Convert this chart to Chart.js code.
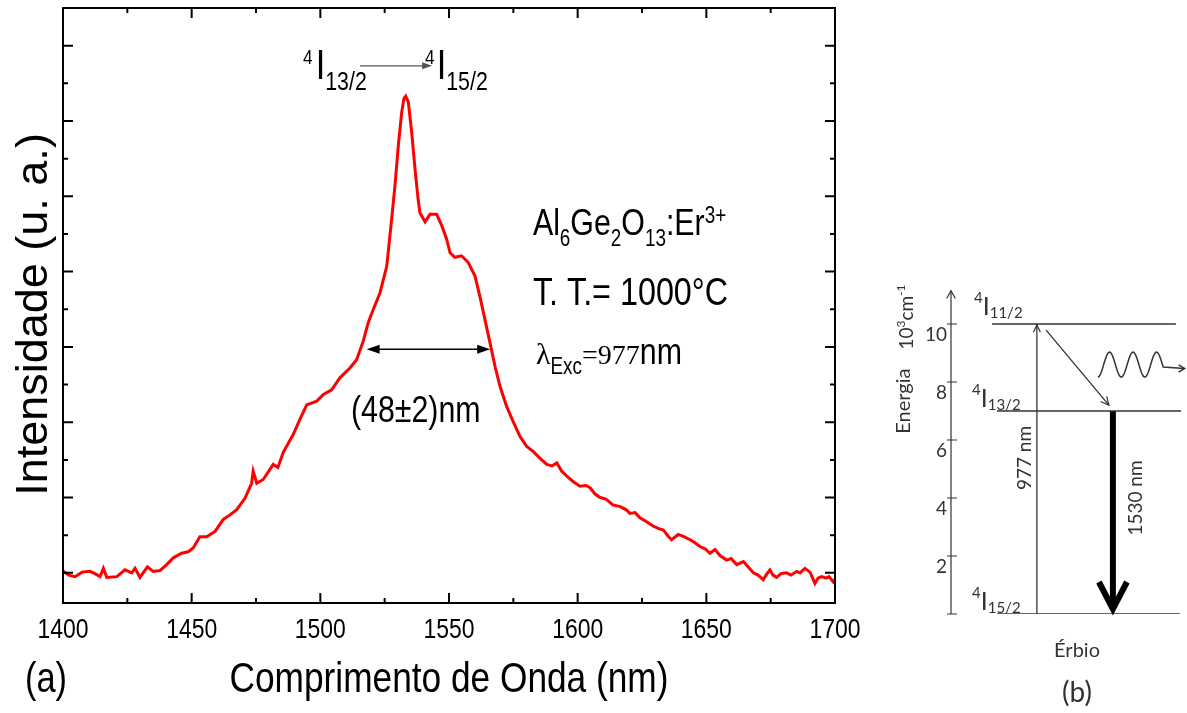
<!DOCTYPE html>
<html lang="pt">
<head>
<meta charset="UTF-8">
<title>Espectro de emissão Al6Ge2O13:Er3+</title>
<script src="https://cdn.jsdelivr.net/npm/chart.js"></script>
<style>
  body { margin: 0; background: #fff; }
  #spectrum { position: absolute; left: 0; top: 0; }
  #levels { position: absolute; left: 880px; top: 270px; }
</style>
</head>
<body>
<canvas id="spectrum" width="880" height="713"></canvas>
<canvas id="levels" width="307" height="443"></canvas>
<script>
// ---- (a) emission spectrum ----
const wavelength = [
  1400.1, 1402.3, 1404.7, 1407.4, 1410.5, 1412.4, 1414.4, 1415.7, 1417.0, 1420.9,
  1424.1, 1426.7, 1428.0, 1429.9, 1432.8, 1435.1, 1437.7, 1440.3, 1442.9, 1446.1,
  1448.7, 1450.6, 1453.2, 1455.8, 1459.1, 1462.3, 1464.9, 1467.5, 1470.7, 1473.3,
  1473.9, 1475.3, 1477.8, 1481.7, 1483.5, 1485.6, 1489.5, 1492.1, 1494.7, 1498.6,
  1501.2, 1504.4, 1507.6, 1511.5, 1514.1, 1516.7, 1518.6, 1520.6, 1523.2, 1525.8,
  1527.7, 1529.0, 1530.3, 1531.6, 1532.5, 1533.2, 1534.2, 1535.5, 1536.8, 1538.0,
  1538.7, 1540.7, 1542.6, 1545.2, 1547.2, 1549.1, 1550.4, 1552.3, 1554.9, 1557.5,
  1560.1, 1562.0, 1564.0, 1565.9, 1567.9, 1569.8, 1572.4, 1574.9, 1577.6, 1580.2,
  1582.8, 1585.4, 1588.0, 1590.0, 1591.9, 1593.8, 1595.9, 1598.3, 1600.9, 1603.2,
  1604.8, 1606.7, 1608.7, 1611.0, 1613.8, 1616.5, 1618.8, 1620.3, 1622.3, 1624.2,
  1626.8, 1629.4, 1631.3, 1633.3, 1635.1, 1636.5, 1639.1, 1641.3, 1643.7, 1645.6,
  1647.5, 1649.5, 1651.4, 1653.4, 1655.3, 1657.9, 1659.6, 1661.8, 1664.4, 1666.2,
  1668.3, 1670.1, 1672.1, 1673.6, 1674.7, 1675.9, 1677.3, 1679.0, 1681.2, 1682.9,
  1685.1, 1686.4, 1688.3, 1690.3, 1692.2, 1693.4, 1694.8, 1696.5, 1697.7, 1699.3,
  1700.0
];
const intensity = [
  0.02, -0.03, -0.05, 0.01, 0.02, -0.01, -0.05, 0.06, -0.06, -0.05,
  0.04, 0.00, 0.06, -0.06, 0.08, 0.02, 0.03, 0.11, 0.20, 0.26,
  0.28, 0.33, 0.48, 0.48, 0.55, 0.71, 0.77, 0.84, 0.99, 1.19,
  1.35, 1.19, 1.24, 1.44, 1.40, 1.60, 1.84, 2.04, 2.23, 2.28,
  2.37, 2.43, 2.59, 2.72, 2.83, 3.08, 3.32, 3.50, 3.72, 4.07,
  4.69, 5.14, 5.67, 6.11, 6.30, 6.33, 6.25, 5.85, 5.36, 4.96,
  4.78, 4.66, 4.76, 4.76, 4.61, 4.43, 4.25, 4.19, 4.21, 4.12,
  3.94, 3.67, 3.36, 3.06, 2.74, 2.48, 2.21, 2.01, 1.81, 1.68,
  1.61, 1.52, 1.44, 1.42, 1.46, 1.35, 1.28, 1.21, 1.15, 1.16,
  1.13, 1.05, 1.00, 0.98, 0.90, 0.88, 0.84, 0.79, 0.80, 0.73,
  0.68, 0.62, 0.59, 0.57, 0.49, 0.44, 0.51, 0.48, 0.44, 0.40,
  0.35, 0.32, 0.26, 0.31, 0.23, 0.17, 0.19, 0.11, 0.15, 0.08,
  0.00, -0.03, -0.09, -0.01, 0.04, -0.03, -0.06, -0.01, 0.00, -0.03,
  0.02, 0.00, 0.06, 0.01, -0.14, -0.07, -0.05, -0.07, -0.05, -0.12,
  -0.08
];
const xMajorTicks = [1400, 1450, 1500, 1550, 1600, 1650, 1700];
const xMinorTicks = [1425, 1475, 1525, 1575, 1625, 1675];
const yMajorTicks = [0, 1, 2, 3, 4, 5, 6, 7];
const yMinorTicks = [0.5, 1.5, 2.5, 3.5, 4.5, 5.5, 6.5];

// annotation anchors, in (nm, a.u.)
const transitionAt = [1493.3, 6.56];
const sampleAt = [1582.6, 4.49];
const treatmentAt = [1582.6, 3.56];
const excitationAt = [1583.8, 2.77];
const fwhmCenter = 1542;
const fwhmWidth = 48;
const fwhmLevel = 2.97;
const fwhmTextAt = [1511.9, 2.0];

// ---- (b) Er3+ energy levels (10^3 cm^-1) ----
const levelNames = ['11/2', '13/2', '15/2'];
const levelEnergy = [10, 7, 0];
const levelStart = [17.4, 19.5, 19.5];
const levelEnd = [95.3, 97.5, 97.0];
const levelLabelX = [9.75, 8.9, 8.9];
const levelLabelE = [10.31, 7.14, 0.14];
const energyTicks = [0, 2, 4, 6, 8, 10];
const energyAxisTop = 11.15;
const pumpX = 36.4;
const emissionX = 68.6;
const relaxFrom = [40.3, 9.79];
const relaxTo = [66.9, 7.2];

const SANS = '"Liberation Sans", Arial, sans-serif';
const SERIF = '"Liberation Serif", "Times New Roman", serif';
const CALI = 'Lato, "Open Sans", sans-serif';
const NARROW = 0.82;   // horizontal squeeze for the condensed Arial look
const font = (size, family) => size + 'px ' + family;

// draws a row of text pieces (sub/superscripts via dy), k squeezes a piece horizontally
function drawRuns(ctx, x, y, runs) {
  ctx.textAlign = 'left';
  ctx.textBaseline = 'alphabetic';
  for (const r of runs) {
    const k = r.k || 1;
    ctx.font = r.f;
    x += r.dx || 0;
    ctx.save();
    ctx.translate(x, y + (r.dy || 0));
    ctx.scale(k, 1);
    ctx.fillText(r.t, 0, 0);
    ctx.restore();
    x += ctx.measureText(r.t).width * k;
  }
  return x;
}

function runsWidth(ctx, runs) {
  let w = 0;
  for (const r of runs) {
    ctx.font = r.f;
    w += ctx.measureText(r.t).width * (r.k || 1) + (r.dx || 0);
  }
  return w;
}

function drawRunsCentered(ctx, cx, y, runs) {
  drawRuns(ctx, cx - runsWidth(ctx, runs) / 2, y, runs);
}

function drawRunsUp(ctx, cx, cy, runs) {
  ctx.save();
  ctx.translate(cx, cy);
  ctx.rotate(-Math.PI / 2);
  drawRuns(ctx, -runsWidth(ctx, runs) / 2, 0, runs);
  ctx.restore();
}

function solidHead(ctx, fx, fy, tx, ty, len, half) {
  const a = Math.atan2(ty - fy, tx - fx);
  const bx = tx - len * Math.cos(a), by = ty - len * Math.sin(a);
  ctx.beginPath();
  ctx.moveTo(tx, ty);
  ctx.lineTo(bx + half * Math.sin(a), by - half * Math.cos(a));
  ctx.lineTo(bx - half * Math.sin(a), by + half * Math.cos(a));
  ctx.closePath();
  ctx.fill();
}

function openHead(ctx, fx, fy, tx, ty, len, spread) {
  const a = Math.atan2(ty - fy, tx - fx);
  ctx.beginPath();
  ctx.moveTo(tx - len * Math.cos(a - spread), ty - len * Math.sin(a - spread));
  ctx.lineTo(tx, ty);
  ctx.lineTo(tx - len * Math.cos(a + spread), ty - len * Math.sin(a + spread));
  ctx.stroke();
}

const spectrumDecor = {
  id: 'spectrumDecor',
  afterDatasetsDraw(chart) {
    const { ctx, chartArea: a, scales: { x, y } } = chart;
    ctx.save();

    // frame with inward ticks on all four sides
    ctx.strokeStyle = '#000';
    ctx.lineWidth = 2;
    ctx.strokeRect(a.left, a.top, a.width, a.height);
    ctx.beginPath();
    const xTick = (v, len) => {
      const p = x.getPixelForValue(v);
      ctx.moveTo(p, a.bottom); ctx.lineTo(p, a.bottom - len);
      ctx.moveTo(p, a.top); ctx.lineTo(p, a.top + len);
    };
    const yTick = (v, len) => {
      const p = y.getPixelForValue(v);
      ctx.moveTo(a.left, p); ctx.lineTo(a.left + len, p);
      ctx.moveTo(a.right, p); ctx.lineTo(a.right - len, p);
    };
    xMajorTicks.forEach(v => xTick(v, 10));
    xMinorTicks.forEach(v => xTick(v, 5));
    yMajorTicks.forEach(v => yTick(v, 10));
    yMinorTicks.forEach(v => yTick(v, 5));
    ctx.stroke();

    ctx.fillStyle = '#000';

    // x tick labels and title
    xMajorTicks.forEach(v => {
      drawRunsCentered(ctx, x.getPixelForValue(v), a.bottom + 35,
        [{ t: String(v), f: font(28, SANS), k: NARROW }]);
    });
    drawRunsCentered(ctx, (a.left + a.right) / 2, a.bottom + 89,
      [{ t: 'Comprimento de Onda (nm)', f: font(43, SANS), k: NARROW }]);

    // y title
    ctx.font = font(45, SANS);
    ctx.save();
    ctx.translate(a.left - 16, (a.top + a.bottom) / 2 + 9);
    ctx.rotate(-Math.PI / 2);
    ctx.textAlign = 'center';
    ctx.textBaseline = 'alphabetic';
    ctx.fillText('Intensidade (u. a.)', 0, 0);
    ctx.restore();

    // 4I13/2 -> 4I15/2
    const px = x.getPixelForValue(transitionAt[0]);
    const py = y.getPixelForValue(transitionAt[1]);
    drawRuns(ctx, px, py, [
      { t: '4', f: font(21, SANS), k: NARROW, dy: -15 },
      { t: 'I', f: font(42, SANS), k: NARROW, dx: 3 },
      { t: '13/2', f: font(26, SANS), k: NARROW, dy: 11 }
    ]);
    ctx.strokeStyle = '#555';
    ctx.fillStyle = '#555';
    ctx.lineWidth = 1.2;
    ctx.beginPath();
    ctx.moveTo(px + 57, py - 13);
    ctx.lineTo(px + 122, py - 13);
    ctx.stroke();
    solidHead(ctx, px + 57, py - 13, px + 129, py - 13, 10, 3.5);
    ctx.fillStyle = '#000';
    drawRuns(ctx, px + 122, py, [
      { t: '4', f: font(21, SANS), k: NARROW, dy: -15 },
      { t: 'I', f: font(42, SANS), k: NARROW, dx: 2 },
      { t: '15/2', f: font(26, SANS), k: NARROW, dy: 11 }
    ]);

    // sample composition and conditions
    drawRuns(ctx, x.getPixelForValue(sampleAt[0]), y.getPixelForValue(sampleAt[1]), [
      { t: 'Al', f: font(37, SANS), k: NARROW },
      { t: '6', f: font(23, SANS), k: NARROW, dy: 11 },
      { t: 'Ge', f: font(37, SANS), k: NARROW },
      { t: '2', f: font(23, SANS), k: NARROW, dy: 11 },
      { t: 'O', f: font(37, SANS), k: NARROW },
      { t: '13', f: font(23, SANS), k: NARROW, dy: 11 },
      { t: ':Er', f: font(37, SANS), k: NARROW },
      { t: '3+', f: font(23, SANS), k: NARROW, dy: -12 }
    ]);
    drawRuns(ctx, x.getPixelForValue(treatmentAt[0]), y.getPixelForValue(treatmentAt[1]), [
      { t: 'T. T.= 1000°C', f: font(38, SANS), k: 0.85 }
    ]);
    drawRuns(ctx, x.getPixelForValue(excitationAt[0]), y.getPixelForValue(excitationAt[1]), [
      { t: 'λ', f: font(30, SERIF) },
      { t: 'Exc', f: font(23, SANS), k: NARROW, dy: 10 },
      { t: '=977', f: font(28, SERIF) },
      { t: 'nm', f: font(37, SANS), k: NARROW }
    ]);

    // FWHM double arrow
    const fy = y.getPixelForValue(fwhmLevel);
    const fl = x.getPixelForValue(fwhmCenter - fwhmWidth / 2);
    const fr = x.getPixelForValue(fwhmCenter + fwhmWidth / 2);
    ctx.strokeStyle = '#000';
    ctx.lineWidth = 1.5;
    ctx.beginPath();
    ctx.moveTo(fl + 8, fy);
    ctx.lineTo(fr - 8, fy);
    ctx.stroke();
    solidHead(ctx, fr, fy, fl, fy, 13, 4.5);
    solidHead(ctx, fl, fy, fr, fy, 13, 4.5);
    drawRuns(ctx, x.getPixelForValue(fwhmTextAt[0]), y.getPixelForValue(fwhmTextAt[1]), [
      { t: '(' + fwhmWidth + '±2)nm', f: font(37, SANS), k: NARROW }
    ]);

    // panel tag
    drawRuns(ctx, a.left - 38, a.bottom + 89, [{ t: '(a)', f: font(42, SANS), k: NARROW }]);
    ctx.restore();
  }
};

new Chart(document.getElementById('spectrum'), {
  type: 'scatter',
  data: {
    datasets: [{
      data: wavelength.map((w, i) => ({ x: w, y: intensity[i] })),
      showLine: true,
      borderColor: '#ff0000',
      borderWidth: 3,
      pointRadius: 0,
      tension: 0
    }]
  },
  options: {
    responsive: false,
    animation: false,
    layout: { padding: { top: 8, right: 45, left: 0, bottom: 0 } },
    plugins: { legend: { display: false }, tooltip: { enabled: false } },
    scales: {
      x: {
        type: 'linear',
        min: 1400,
        max: 1700,
        grid: { display: false, drawTicks: false },
        border: { display: false },
        ticks: { display: false },
        afterFit: s => { s.height = 110; }
      },
      y: {
        min: -0.4,
        max: 7.5,
        grid: { display: false, drawTicks: false },
        border: { display: false },
        ticks: { display: false },
        afterFit: s => { s.width = 63; }
      }
    }
  },
  plugins: [spectrumDecor]
});

// ---- (b) level diagram ----
const ink = '#333';

const levelDecor = {
  id: 'levelDecor',
  afterDatasetsDraw(chart) {
    const { ctx, chartArea: a, scales: { x, y } } = chart;
    ctx.save();
    ctx.strokeStyle = ink;
    ctx.fillStyle = ink;
    ctx.lineWidth = 1.2;

    // energy axis with arrow and ticks
    const ax = a.left;
    const top = y.getPixelForValue(energyAxisTop);
    ctx.beginPath();
    ctx.moveTo(ax, y.getPixelForValue(0));
    ctx.lineTo(ax, top);
    ctx.stroke();
    openHead(ctx, ax, top + 20, ax, top, 9, 0.5);
    ctx.beginPath();
    energyTicks.forEach(v => {
      const p = y.getPixelForValue(v);
      ctx.moveTo(ax - 4, p);
      ctx.lineTo(ax + 6, p);
    });
    ctx.stroke();
    ctx.font = font(19, CALI);
    ctx.textAlign = 'right';
    ctx.textBaseline = 'top';
    energyTicks.forEach(v => {
      if (v) ctx.fillText(String(v), ax - 4, y.getPixelForValue(v) + 1);
    });

    drawRunsUp(ctx, ax - 41, y.getPixelForValue(7.34), [{ t: 'Energia', f: font(20, CALI) }]);
    drawRunsUp(ctx, ax - 38, y.getPixelForValue(10.24), [
      { t: '10', f: font(19, CALI) },
      { t: '3', f: font(12, CALI), dy: -8 },
      { t: 'cm', f: font(19, CALI) },
      { t: '-1', f: font(12, CALI), dy: -8 }
    ]);

    // level labels
    levelNames.forEach((n, i) => {
      drawRuns(ctx, x.getPixelForValue(levelLabelX[i]), y.getPixelForValue(levelLabelE[i]), [
        { t: '4', f: font(15, CALI), dy: -12 },
        { t: 'I', f: font(25, CALI) },
        { t: n, f: font(15, CALI), dy: 3 }
      ]);
    });

    // pump arrow head (977 nm)
    const pX = x.getPixelForValue(pumpX);
    openHead(ctx, pX, y.getPixelForValue(0), pX, y.getPixelForValue(levelEnergy[0]) + 1, 8, 0.45);
    drawRunsUp(ctx, pX - 6, y.getPixelForValue(5.38), [{ t: '977 nm', f: font(19, CALI) }]);

    // non-radiative relaxation
    openHead(ctx, x.getPixelForValue(relaxFrom[0]), y.getPixelForValue(relaxFrom[1]),
      x.getPixelForValue(relaxTo[0]), y.getPixelForValue(relaxTo[1]), 9, 0.45);

    // phonon squiggle
    const w0 = x.getPixelForValue(62.2);
    const wc = y.getPixelForValue(8.6);
    const period = 23.5, amp = 12.5;
    ctx.lineWidth = 1.5;
    ctx.beginPath();
    for (let t = 0; t <= 2.8; t += 0.02) {
      const sx = w0 + t * period;
      const sy = wc + amp * Math.cos(2 * Math.PI * t);
      if (t === 0) ctx.moveTo(sx, sy); else ctx.lineTo(sx, sy);
    }
    const wEnd = w0 + 2.8 * period;
    const wY = wc + amp * Math.cos(2 * Math.PI * 2.8);
    ctx.lineTo(wEnd + 21, wY);
    ctx.stroke();
    openHead(ctx, wEnd, wY, wEnd + 21, wY, 7, 0.55);

    // radiative emission (1530 nm), heavy chevron head
    const eX = x.getPixelForValue(emissionX);
    const tipY = y.getPixelForValue(levelEnergy[2]) - 5;
    ctx.strokeStyle = '#000';
    ctx.lineWidth = 6;
    ctx.lineJoin = 'miter';
    ctx.beginPath();
    ctx.moveTo(eX - 14, tipY - 27);
    ctx.lineTo(eX, tipY);
    ctx.lineTo(eX + 14, tipY - 27);
    ctx.stroke();
    drawRunsUp(ctx, eX + 29, y.getPixelForValue(4.0), [{ t: '1530 nm', f: font(19, CALI) }]);

    // captions
    ctx.fillStyle = ink;
    ctx.textAlign = 'center';
    ctx.textBaseline = 'alphabetic';
    const cx = x.getPixelForValue(53.4);
    ctx.font = font(20, CALI);
    ctx.fillText('Érbio', cx, a.bottom + 43);
    ctx.font = font(28, CALI);
    ctx.fillText('(b)', cx, a.bottom + 88);
    ctx.restore();
  }
};

const segment = (x1, y1, x2, y2, color, width) => ({
  data: [{ x: x1, y: y1 }, { x: x2, y: y2 }],
  showLine: true,
  borderColor: color,
  borderWidth: width,
  borderCapStyle: 'butt',
  pointRadius: 0
});

new Chart(document.getElementById('levels'), {
  type: 'scatter',
  data: {
    datasets: [
      ...levelEnergy.map((e, i) => segment(levelStart[i], e, levelEnd[i], e, ink, 1.3)),
      segment(pumpX, levelEnergy[2], pumpX, levelEnergy[0], ink, 1.3),
      segment(relaxFrom[0], relaxFrom[1], relaxTo[0], relaxTo[1], ink, 1.3),
      segment(emissionX, levelEnergy[1], emissionX, levelEnergy[2] + 0.3, '#000', 6)
    ]
  },
  options: {
    responsive: false,
    animation: false,
    layout: { padding: { top: 10.5, right: 0, bottom: 99, left: 0 } },
    plugins: { legend: { display: false }, tooltip: { enabled: false } },
    scales: {
      x: { type: 'linear', display: false, min: 0, max: 100 },
      y: {
        min: 0,
        max: 11.5,
        grid: { display: false, drawTicks: false },
        border: { display: false },
        ticks: { display: false },
        afterFit: s => { s.width = 71; }
      }
    }
  },
  plugins: [levelDecor]
});
</script>
</body>
</html>
